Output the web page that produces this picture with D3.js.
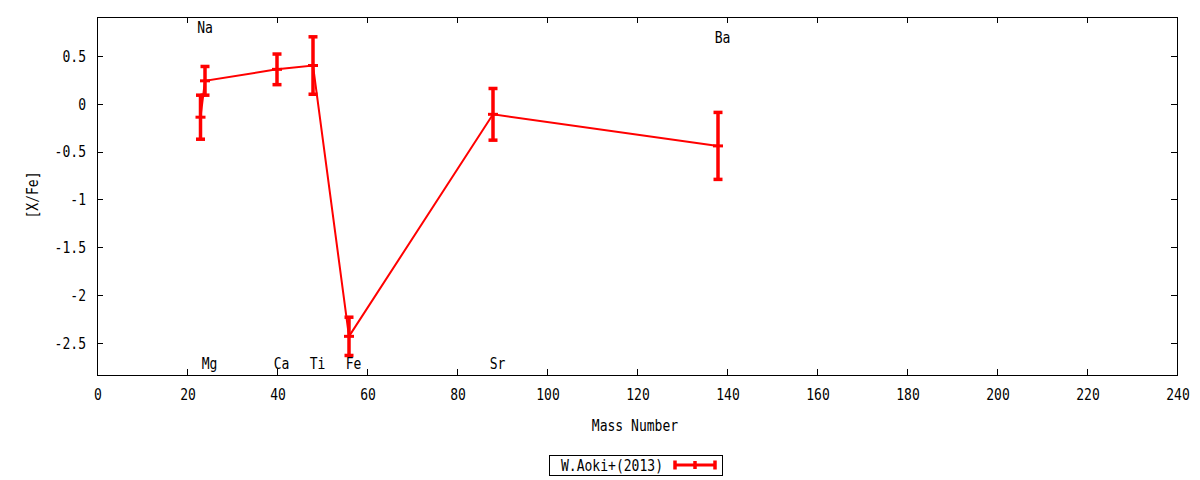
<!DOCTYPE html>
<html><head><meta charset="utf-8">
<script src="https://cdn.jsdelivr.net/npm/d3@7"></script>
<style>
html,body{margin:0;padding:0;background:#fff;}
svg{display:block;}
text{font-family:"DejaVu Sans Mono",monospace;font-size:16px;fill:#000;}
</style></head>
<body>
<svg id="chart" width="1200" height="480"></svg>
<script>
const elements = ["Na","Mg","Ca","Ti","Fe","Sr","Ba"];
const massNumbers = [23,24,40,48,56,88,138];
const abundances = [-0.14,0.24,0.36,0.40,-2.43,-0.11,-0.44];
const errors = [0.23,0.15,0.16,0.30,0.20,0.27,0.35];
const labelX = [24,25,41,49,57,89,139];
const labelY = [0.80,-2.71,-2.71,-2.71,-2.71,-2.71,0.70];
const xTicks = [0,20,40,60,80,100,120,140,160,180,200,220,240];
const yTicks = [0.5,0,-0.5,-1,-1.5,-2,-2.5];
const seriesName = "W.Aoki+(2013)";

const svg = d3.select("#chart");
const L=97, R=1177, T=17, B=375;
const x = d3.scaleLinear().domain([0,240]).range([L,R]);
const y = d3.scaleLinear().domain([-2.834,0.907]).range([B,T]);
const red = "#ff0000";
const CH = 7.85; // char advance

function txt(s, px, py, anchor){
  const t = svg.append("text").attr("x",px).attr("y",py).attr("dy","0.36em")
    .attr("text-anchor",anchor||"middle").attr("textLength",s.length*CH)
    .attr("lengthAdjust","spacingAndGlyphs").text(s);
  return t;
}

// ticks (mirrored, inward)
const tl = 6;
const axB = d3.axisBottom(x).tickValues(xTicks).tickSize(0).tickFormat(()=> "");
svg.append("g").attr("transform",`translate(0,${B})`).call(axB).select(".domain").remove();
const axL = d3.axisLeft(y).tickValues(yTicks).tickSize(0).tickFormat(()=> "");
svg.append("g").attr("transform",`translate(${L},0)`).call(axL).select(".domain").remove();

const tg = svg.append("g").attr("stroke","#000").attr("stroke-width",1).attr("shape-rendering","crispEdges");
xTicks.forEach(v=>{
  const px = Math.round(x(v))+0.5;
  tg.append("line").attr("x1",px).attr("x2",px).attr("y1",B).attr("y2",B-tl);
  tg.append("line").attr("x1",px).attr("x2",px).attr("y1",T).attr("y2",T+tl);
  txt(String(v), x(v)+1, 394, "middle");
});
yTicks.forEach(v=>{
  const py = Math.round(y(v))+0.5;
  tg.append("line").attr("x1",L).attr("x2",L+tl).attr("y1",py).attr("y2",py);
  tg.append("line").attr("x1",R).attr("x2",R-tl).attr("y1",py).attr("y2",py);
  txt(String(v), 86, y(v), "end");
});
svg.append("rect").attr("x",L+0.5).attr("y",T+0.5).attr("width",R-L).attr("height",B-T)
  .attr("fill","none").attr("stroke","#000").attr("stroke-width",1).attr("shape-rendering","crispEdges");

// axis titles
txt("Mass Number", 635, 425, "middle");
svg.append("text").attr("transform",`translate(32,${(T+B)/2-1}) rotate(-90)`).attr("dy","0.36em")
  .attr("text-anchor","middle").attr("textLength",6*CH).attr("lengthAdjust","spacingAndGlyphs").text("[X/Fe]");

// data
const data = elements.map((e,i)=>({e, m:massNumbers[i], v:abundances[i], err:errors[i]}));
const line = d3.line().x(d=>x(d.m)).y(d=>y(d.v));
svg.append("path").datum(data).attr("d",line).attr("fill","none").attr("stroke",red).attr("stroke-width",2);
const eb = svg.append("g").attr("stroke",red);
data.forEach(d=>{
  const px = x(d.m);
  eb.append("line").attr("x1",px).attr("x2",px).attr("y1",y(d.v+d.err)).attr("y2",y(d.v-d.err)).attr("stroke-width",3.5);
  [d.v+d.err,d.v-d.err].forEach(vv=>{
    eb.append("line").attr("x1",px-4.5).attr("x2",px+4.5).attr("y1",y(vv)).attr("y2",y(vv)).attr("stroke-width",3.5);
  });
  eb.append("line").attr("x1",px-5).attr("x2",px+5).attr("y1",y(d.v)).attr("y2",y(d.v)).attr("stroke-width",3);
});

// element labels
elements.forEach((e,i)=>{
  txt(e, x(labelX[i]), y(labelY[i]), "middle");
});

// legend
svg.append("rect").attr("x",549.5).attr("y",455.5).attr("width",173).attr("height",20)
  .attr("fill","none").attr("stroke","#000").attr("stroke-width",1).attr("shape-rendering","crispEdges");
txt(seriesName, 663, 465, "end");
const lg = svg.append("g").attr("stroke",red);
lg.append("line").attr("x1",675).attr("x2",715).attr("y1",465).attr("y2",465).attr("stroke-width",3);
[675,715].forEach(px=>lg.append("line").attr("x1",px).attr("x2",px).attr("y1",460.5).attr("y2",469.5).attr("stroke-width",3.5));
lg.append("line").attr("x1",695).attr("x2",695).attr("y1",461).attr("y2",469).attr("stroke-width",3.5);
</script>
</body></html>
